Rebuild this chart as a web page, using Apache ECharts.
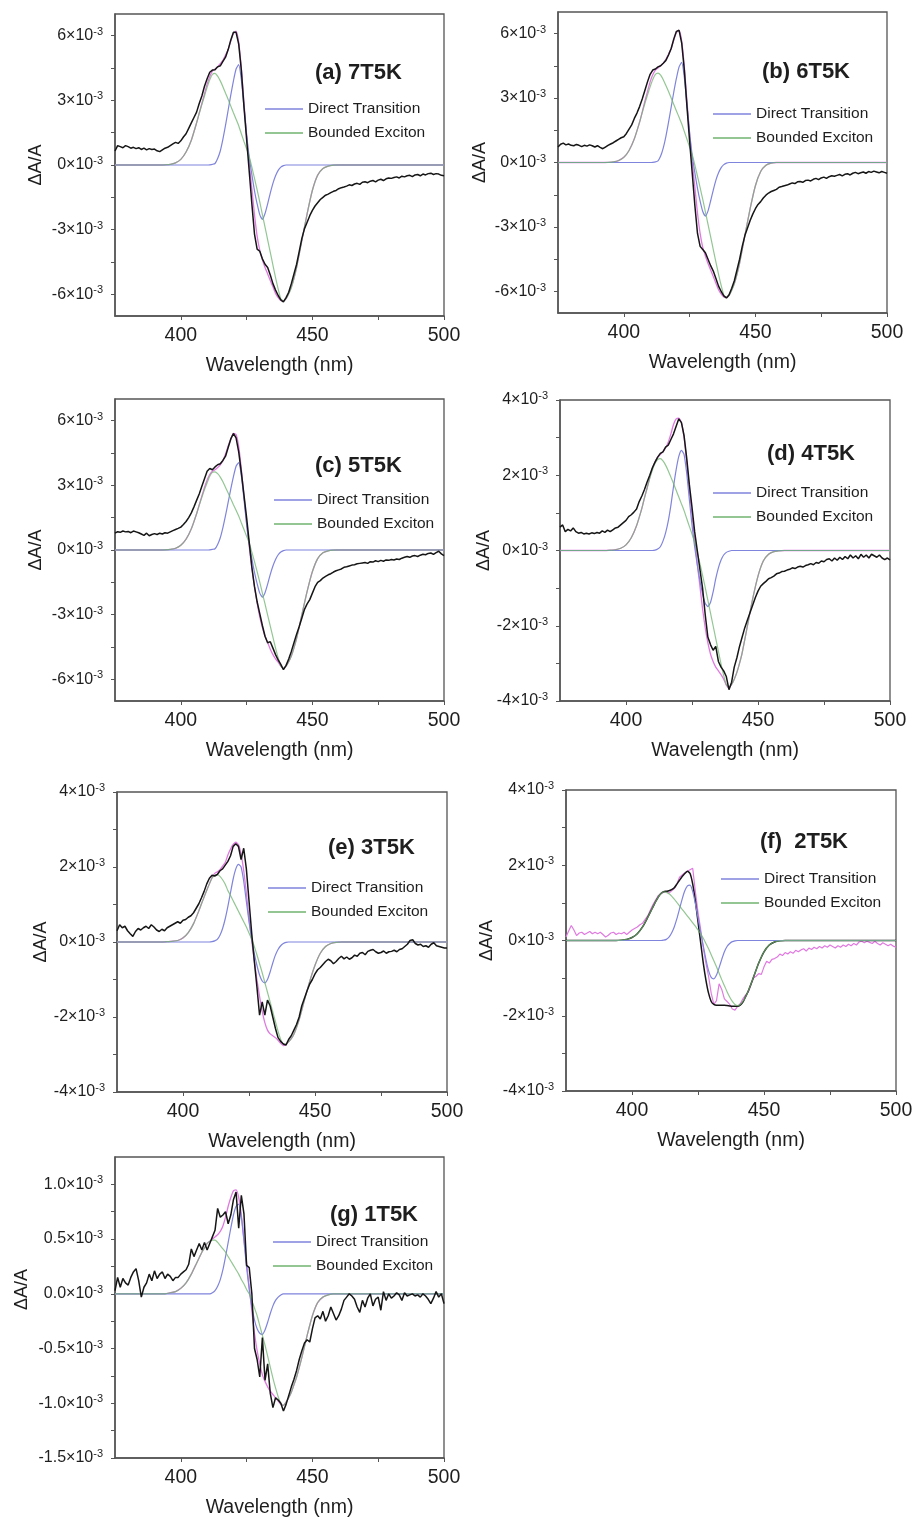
<!DOCTYPE html>
<html>
<head>
<meta charset="utf-8">
<script src="https://cdn.jsdelivr.net/npm/echarts@6/dist/echarts.min.js"></script>
<style>
  html, body { margin: 0; padding: 0; background: #ffffff; }
  #chart { width: 919px; height: 1520px; }
</style>
</head>
<body>
<div id="chart"></div>
<script>
// Transient absorption spectra, ΔA/A in units of 10^-3, with a two-component fit
// (direct transition + bounded exciton) for seven samples.

// Measured spectra on the 1 nm detector grid
const rawWl = [
  375,376,377,378,379,380,381,382,383,384, 385,386,387,388,389,390,391,392,393,394,
  395,396,397,398,399,400,401,402,403,404, 405,406,407,408,409,410,411,412,413,414,
  415,416,417,418,419,420,421,422,423,424, 425,426,427,428,429,430,431,432,433,434,
  435,436,437,438,439,440,441,442,443,444, 445,446,447,448,449,450,451,452,453,454,
  455,456,457,458,459,460,461,462,463,464, 465,466,467,468,469,470,471,472,473,474,
  475,476,477,478,479,480,481,482,483,484, 485,486,487,488,489,490,491,492,493,494,
  495,496,497,498,499,500
];

// Fit curves grid (finer around the transitions)
const fitWl = [
  375,390,392,394,396,398,400,402,404,406,
  407,408,409,410,411,412,413,414,415,416,
  417,418,419,420,421,422,423,424,425,426,
  427,428,429,430,431,432,433,434,435,436,
  437,438,439,440,441,442,443,444,446,448,
  450,452,454,456,458,460,462,500
];

// ---------- (a) 7T5K ----------
const rawA = [
  0.65,0.9,0.85,0.8,0.9,0.85,0.78,0.82,0.76,0.8, 0.72,0.78,0.7,0.76,0.72,0.74,0.66,0.62,0.7,0.78,
  0.82,0.9,0.98,1.05,1.0,1.12,1.3,1.45,1.7,1.95, 2.2,2.45,2.85,3.2,3.65,4.0,4.3,4.4,4.42,4.55,
  4.6,4.8,5.0,5.35,5.8,6.15,6.15,5.6,4.4,2.7, 1.2,-0.3,-1.8,-3.2,-3.9,-4.0,-4.35,-4.6,-4.75,-5.1,
  -5.5,-5.8,-6.05,-6.25,-6.35,-6.15,-5.9,-5.5,-5.05,-4.6, -4.0,-3.4,-2.95,-2.65,-2.35,-2.1,-1.9,-1.75,-1.6,-1.5,
  -1.4,-1.35,-1.28,-1.22,-1.18,-1.1,-1.05,-1.02,-0.98,-0.92, -0.95,-0.88,-0.85,-0.9,-0.8,-0.78,-0.82,-0.75,-0.72,-0.78,
  -0.7,-0.66,-0.72,-0.64,-0.6,-0.62,-0.58,-0.55,-0.6,-0.52, -0.55,-0.5,-0.48,-0.54,-0.46,-0.44,-0.5,-0.42,-0.46,-0.4,
  -0.38,-0.44,-0.4,-0.42,-0.48,-0.5
];
const fitA = [
  0,0,0,0.01,0.03,0.1,0.26,0.6,1.15,1.95,
  2.4,2.85,3.3,3.75,4.1,4.35,4.45,4.55,4.7,4.85,
  5.1,5.35,5.75,6.1,6.2,5.7,4.5,2.9,1.4,0.1,
  -1.1,-2.3,-3.3,-3.95,-4.4,-4.75,-5.05,-5.35,-5.65,-5.95,
  -6.15,-6.28,-6.3,-6.2,-5.95,-5.65,-5.25,-4.75,-3.5,-2.26,
  -1.17,-0.47,-0.16,-0.05,-0.01,0,0,0
];
const directA = [
  0,0,0,0,0,0,0,0,0,0,
  0,0,0,0,0.01,0.03,0.07,0.3,0.65,1.2,
  1.85,2.55,3.25,3.9,4.45,4.65,3.95,2.7,1.4,0.35,
  -0.45,-1.2,-1.8,-2.3,-2.52,-2.25,-1.8,-1.3,-0.85,-0.5,
  -0.25,-0.1,-0.03,0,0,0,0,0,0,0,
  0,0,0,0,0,0,0,0
];
const excitonA = [
  0,0,0,0.01,0.03,0.1,0.26,0.6,1.15,1.95,
  2.4,2.8,3.2,3.6,3.95,4.2,4.25,4.12,3.9,3.63,
  3.33,3.04,2.73,2.42,2.12,1.82,1.45,1.09,0.75,0.39,
  -0.1,-0.62,-1.15,-1.71,-2.3,-2.88,-3.47,-4.05,-4.64,-5.22,
  -5.75,-6.2,-6.3,-6.2,-5.98,-5.69,-5.25,-4.75,-3.5,-2.26,
  -1.17,-0.47,-0.16,-0.05,-0.01,0,0,0
];

// ---------- (b) 6T5K ----------
const rawB = [
  0.72,0.85,0.9,0.82,0.86,0.8,0.78,0.84,0.8,0.74, 0.8,0.76,0.82,0.78,0.72,0.78,0.7,0.64,0.72,0.8,
  0.86,0.92,1.0,1.08,1.15,1.2,1.35,1.55,1.75,2.05, 2.3,2.6,2.95,3.35,3.75,4.1,4.3,4.35,4.45,4.5,
  4.62,4.75,5.0,5.3,5.75,6.1,6.15,5.55,4.3,2.6, 1.0,-0.5,-2.0,-3.3,-3.9,-4.05,-4.2,-4.5,-4.8,-5.05,
  -5.4,-5.75,-6.0,-6.2,-6.3,-6.15,-5.85,-5.5,-5.0,-4.5, -3.9,-3.4,-3.05,-2.7,-2.4,-2.15,-1.95,-1.82,-1.65,-1.52,
  -1.42,-1.35,-1.3,-1.25,-1.15,-1.12,-1.08,-1.05,-1.0,-0.95, -0.98,-0.9,-0.88,-0.92,-0.84,-0.82,-0.86,-0.78,-0.74,-0.8,
  -0.72,-0.68,-0.74,-0.66,-0.62,-0.64,-0.6,-0.56,-0.62,-0.55, -0.52,-0.58,-0.5,-0.46,-0.52,-0.48,-0.44,-0.5,-0.42,-0.46,
  -0.4,-0.44,-0.48,-0.42,-0.46,-0.5
];
const fitB = [
  0,0,0,0.01,0.03,0.09,0.24,0.56,1.1,1.88,
  2.35,2.85,3.3,3.75,4.08,4.3,4.4,4.5,4.62,4.8,
  5.05,5.3,5.7,6.05,6.15,5.65,4.45,2.85,1.35,0.05,
  -1.15,-2.35,-3.3,-3.95,-4.35,-4.7,-5.0,-5.3,-5.62,-5.92,
  -6.12,-6.25,-6.28,-6.18,-5.92,-5.62,-5.2,-4.68,-3.4,-2.15,
  -1.08,-0.42,-0.13,-0.03,0,0,0,0
];
const directB = [
  0,0,0,0,0,0,0,0,0,0,
  0,0,0,0,0.01,0.03,0.08,0.3,0.68,1.22,
  1.88,2.58,3.28,3.92,4.45,4.66,3.95,2.68,1.38,0.32,
  -0.48,-1.2,-1.8,-2.28,-2.49,-2.25,-1.78,-1.28,-0.82,-0.48,
  -0.24,-0.1,-0.03,0,0,0,0,0,0,0,
  0,0,0,0,0,0,0,0
];
const excitonB = [
  0,0,0,0.01,0.03,0.09,0.24,0.56,1.1,1.88,
  2.32,2.74,3.14,3.52,3.86,4.1,4.16,4.06,3.85,3.58,
  3.3,3.0,2.7,2.4,2.1,1.8,1.44,1.08,0.72,0.36,
  -0.12,-0.64,-1.17,-1.72,-2.3,-2.88,-3.46,-4.05,-4.63,-5.2,
  -5.72,-6.16,-6.28,-6.18,-5.95,-5.64,-5.2,-4.68,-3.4,-2.15,
  -1.08,-0.42,-0.13,-0.03,0,0,0,0
];

// ---------- (c) 5T5K ----------
const rawC = [
  0.78,0.85,0.82,0.88,0.84,0.86,0.8,0.88,0.84,0.8, 0.74,0.68,0.78,0.66,0.72,0.76,0.72,0.78,0.74,0.8,
  0.78,0.84,0.9,0.95,1.0,1.06,1.18,1.32,1.5,1.72, 2.0,2.3,2.6,2.95,3.3,3.65,3.78,3.72,3.85,3.95,
  4.0,4.15,4.35,4.75,5.15,5.4,5.2,4.55,3.6,2.55, 1.5,0.35,-0.8,-1.7,-2.4,-2.95,-3.5,-4.0,-4.3,-4.25,
  -4.55,-4.85,-5.1,-5.3,-5.55,-5.35,-5.05,-4.7,-4.3,-3.9, -3.55,-3.15,-2.75,-2.5,-2.3,-2.0,-1.7,-1.5,-1.42,-1.3,
  -1.22,-1.15,-1.1,-1.02,-0.96,-0.92,-0.88,-0.8,-0.78,-0.74, -0.7,-0.68,-0.64,-0.62,-0.6,-0.58,-0.62,-0.54,-0.56,-0.5,
  -0.54,-0.48,-0.52,-0.46,-0.48,-0.44,-0.46,-0.42,-0.44,-0.38, -0.34,-0.3,-0.34,-0.28,-0.26,-0.3,-0.24,-0.2,-0.22,-0.16,
  -0.14,-0.2,-0.12,-0.06,-0.18,-0.26
];
const fitC = [
  0,0,0,0.01,0.03,0.08,0.22,0.5,0.98,1.68,
  2.1,2.5,2.9,3.25,3.5,3.65,3.72,3.82,3.95,4.15,
  4.45,4.82,5.15,5.4,5.35,4.8,3.75,2.5,1.25,0.15,
  -0.85,-1.7,-2.45,-3.1,-3.6,-4.0,-4.3,-4.6,-4.85,-5.05,
  -5.2,-5.38,-5.5,-5.38,-5.18,-4.92,-4.54,-4.1,-3.0,-1.92,
  -1.0,-0.4,-0.13,-0.04,-0.01,0,0,0
];
const directC = [
  0,0,0,0,0,0,0,0,0,0,
  0,0,0,0,0.01,0.03,0.06,0.26,0.57,1.04,
  1.6,2.22,2.83,3.4,3.88,4.05,3.45,2.35,1.2,0.3,
  -0.4,-1.04,-1.56,-2.0,-2.18,-1.98,-1.58,-1.13,-0.74,-0.44,
  -0.22,-0.09,-0.03,0,0,0,0,0,0,0,
  0,0,0,0,0,0,0,0
];
const excitonC = [
  0,0,0,0.01,0.03,0.08,0.22,0.5,0.98,1.68,
  2.07,2.44,2.8,3.12,3.42,3.6,3.62,3.54,3.38,3.16,
  2.9,2.64,2.37,2.1,1.84,1.58,1.26,0.95,0.64,0.33,
  -0.1,-0.54,-1.0,-1.49,-2.0,-2.5,-3.02,-3.53,-4.04,-4.55,
  -5.0,-5.38,-5.47,-5.38,-5.18,-4.92,-4.54,-4.1,-3.0,-1.92,
  -1.0,-0.4,-0.13,-0.04,-0.01,0,0,0
];

// ---------- (d) 4T5K ----------
const rawD = [
  0.62,0.68,0.5,0.56,0.52,0.6,0.5,0.46,0.48,0.44, 0.46,0.44,0.47,0.45,0.48,0.46,0.52,0.48,0.54,0.5,
  0.55,0.6,0.62,0.68,0.74,0.8,0.9,0.95,1.02,1.1, 1.3,1.45,1.62,1.82,2.0,2.2,2.35,2.48,2.58,2.62,
  2.75,2.8,2.95,3.1,3.3,3.5,3.4,3.05,2.45,1.75, 1.15,0.5,0.0,-0.5,-1.0,-1.7,-2.3,-2.5,-2.65,-2.55,
  -2.95,-3.1,-3.2,-3.35,-3.7,-3.5,-3.1,-2.85,-2.55,-2.3, -2.05,-1.85,-1.65,-1.45,-1.25,-1.08,-0.95,-0.88,-0.82,-0.75,
  -0.72,-0.68,-0.62,-0.6,-0.56,-0.55,-0.52,-0.5,-0.46,-0.48, -0.44,-0.42,-0.44,-0.4,-0.38,-0.35,-0.38,-0.32,-0.34,-0.28,
  -0.3,-0.24,-0.22,-0.28,-0.2,-0.26,-0.18,-0.24,-0.16,-0.22, -0.12,-0.2,-0.14,-0.22,-0.1,-0.18,-0.12,-0.2,-0.1,-0.14,
  -0.18,-0.12,-0.2,-0.24,-0.2,-0.25
];
const fitD = [
  0,0,0,0.01,0.02,0.06,0.15,0.34,0.66,1.12,
  1.4,1.66,1.94,2.18,2.36,2.48,2.55,2.63,2.73,2.88,
  3.1,3.35,3.5,3.52,3.4,3.0,2.35,1.6,0.95,0.3,
  -0.35,-0.95,-1.55,-2.05,-2.45,-2.75,-2.95,-3.1,-3.2,-3.3,
  -3.42,-3.58,-3.65,-3.56,-3.42,-3.24,-3.0,-2.72,-2.0,-1.28,
  -0.68,-0.28,-0.1,-0.03,-0.01,0,0,0
];
const directD = [
  0,0,0,0,0,0,0,0,0,0,
  0,0,0,0,0.01,0.04,0.1,0.25,0.47,0.78,
  1.2,1.7,2.15,2.5,2.66,2.55,2.05,1.35,0.68,0.1,
  -0.38,-0.8,-1.15,-1.4,-1.49,-1.38,-1.1,-0.75,-0.46,-0.25,
  -0.12,-0.05,-0.02,0,0,0,0,0,0,0,
  0,0,0,0,0,0,0,0
];
const excitonD = [
  0,0,0,0.01,0.02,0.06,0.15,0.34,0.66,1.12,
  1.4,1.66,1.92,2.14,2.32,2.42,2.44,2.38,2.27,2.12,
  1.95,1.78,1.6,1.42,1.24,1.06,0.85,0.64,0.44,0.22,
  -0.06,-0.35,-0.66,-0.98,-1.32,-1.66,-2.0,-2.34,-2.68,-3.02,
  -3.32,-3.56,-3.63,-3.56,-3.42,-3.24,-3.0,-2.72,-2.0,-1.28,
  -0.68,-0.28,-0.1,-0.03,-0.01,0,0,0
];

// ---------- (e) 3T5K ----------
const rawE = [
  0.3,0.46,0.38,0.42,0.3,0.22,0.15,0.28,0.36,0.32, 0.38,0.42,0.36,0.46,0.4,0.32,0.28,0.34,0.3,0.38,
  0.42,0.46,0.5,0.54,0.5,0.58,0.6,0.66,0.7,0.78, 0.9,1.02,1.18,1.35,1.55,1.7,1.78,1.76,1.8,1.9,
  1.95,2.05,2.15,2.3,2.55,2.62,2.55,2.2,2.5,1.95, 1.1,0.25,-0.5,-1.2,-1.95,-1.6,-1.95,-1.55,-1.7,-2.0,
  -2.3,-2.55,-2.65,-2.72,-2.75,-2.6,-2.5,-2.35,-2.2,-2.0, -1.7,-1.5,-1.3,-1.12,-1.0,-0.85,-0.74,-0.68,-0.6,-0.52,
  -0.46,-0.5,-0.58,-0.52,-0.44,-0.38,-0.45,-0.4,-0.46,-0.42, -0.35,-0.38,-0.3,-0.28,-0.34,-0.25,-0.22,-0.2,-0.26,-0.3,
  -0.28,-0.24,-0.3,-0.26,-0.25,-0.22,-0.26,-0.2,-0.18,-0.12, -0.06,0.04,0.06,-0.04,-0.08,-0.06,-0.12,-0.1,-0.14,-0.06,
  -0.02,-0.1,-0.12,-0.14,-0.16,-0.16
];
const fitE = [
  0,0,0,0.01,0.02,0.04,0.11,0.25,0.49,0.83,
  1.02,1.2,1.38,1.55,1.72,1.83,1.87,1.93,2.02,2.12,
  2.32,2.48,2.6,2.66,2.6,2.35,1.9,1.3,0.62,0.05,
  -0.5,-1.0,-1.45,-1.85,-2.15,-2.35,-2.45,-2.5,-2.55,-2.62,
  -2.7,-2.76,-2.73,-2.66,-2.58,-2.46,-2.28,-2.07,-1.55,-1.05,
  -0.62,-0.3,-0.12,-0.04,-0.01,0,0,0
];
const directE = [
  0,0,0,0,0,0,0,0,0,0,
  0,0,0,0,0.01,0.03,0.07,0.18,0.36,0.62,
  0.95,1.32,1.68,1.95,2.07,2.0,1.62,1.08,0.55,0.08,
  -0.3,-0.62,-0.88,-1.04,-1.09,-1.0,-0.8,-0.56,-0.35,-0.2,
  -0.1,-0.04,-0.01,0,0,0,0,0,0,0,
  0,0,0,0,0,0,0,0
];
const excitonE = [
  0,0,0,0.01,0.02,0.04,0.11,0.25,0.49,0.83,
  1.02,1.2,1.38,1.55,1.7,1.79,1.8,1.75,1.66,1.54,
  1.37,1.24,1.1,0.96,0.82,0.68,0.54,0.4,0.24,0.08,
  -0.12,-0.34,-0.58,-0.82,-1.08,-1.34,-1.6,-1.86,-2.12,-2.38,
  -2.6,-2.72,-2.72,-2.66,-2.58,-2.46,-2.28,-2.07,-1.55,-1.05,
  -0.62,-0.3,-0.12,-0.04,-0.01,0,0,0
];

// ---------- (f) 2T5K ----------
const rawF = [
  0.09,0.25,0.4,0.28,0.13,0.2,0.22,0.16,0.2,0.24, 0.18,0.22,0.18,0.22,0.16,0.09,0.14,0.2,0.22,0.16,
  0.2,0.18,0.22,0.16,0.22,0.28,0.32,0.36,0.42,0.46, 0.56,0.66,0.82,0.96,1.08,1.2,1.26,1.28,1.3,1.26,
  1.32,1.38,1.5,1.68,1.74,1.8,1.84,1.88,1.92,1.3, 0.75,0.3,-0.2,-0.6,-0.95,-1.4,-1.7,-1.6,-1.15,-1.3,
  -1.55,-1.62,-1.7,-1.82,-1.85,-1.75,-1.68,-1.55,-1.45,-1.38, -1.2,-1.0,-0.95,-0.88,-0.9,-0.7,-0.55,-0.6,-0.5,-0.48,
  -0.44,-0.36,-0.4,-0.32,-0.36,-0.3,-0.34,-0.26,-0.3,-0.25, -0.22,-0.28,-0.2,-0.24,-0.18,-0.22,-0.16,-0.2,-0.14,-0.18,
  -0.12,-0.16,-0.2,-0.14,-0.18,-0.12,-0.16,-0.1,-0.14,-0.08, -0.12,-0.04,-0.02,-0.06,-0.02,-0.05,-0.08,-0.02,-0.08,-0.12,
  -0.06,-0.1,-0.14,-0.1,-0.15,-0.18
];
const fitF = [
  0,0,0,0,0.01,0.03,0.08,0.18,0.36,0.62,
  0.76,0.9,1.04,1.16,1.25,1.3,1.31,1.32,1.35,1.4,
  1.5,1.6,1.7,1.78,1.84,1.78,1.5,1.05,0.5,-0.05,
  -0.6,-1.05,-1.4,-1.62,-1.7,-1.72,-1.72,-1.72,-1.72,-1.73,
  -1.74,-1.75,-1.75,-1.75,-1.72,-1.64,-1.5,-1.35,-0.98,-0.6,
  -0.3,-0.12,-0.04,-0.01,0,0,0,0
];
const directF = [
  0,0,0,0,0,0,0,0,0,0,
  0,0,0,0,0,0.01,0.03,0.09,0.2,0.36,
  0.58,0.84,1.1,1.32,1.45,1.47,1.3,0.98,0.6,0.22,
  -0.14,-0.5,-0.8,-0.98,-1.02,-0.92,-0.72,-0.5,-0.3,-0.16,
  -0.08,-0.03,-0.01,0,0,0,0,0,0,0,
  0,0,0,0,0,0,0,0
];
const excitonF = [
  0,0,0,0,0.01,0.03,0.08,0.18,0.36,0.62,
  0.76,0.9,1.04,1.16,1.25,1.29,1.28,1.24,1.18,1.1,
  1.01,0.92,0.83,0.74,0.65,0.56,0.47,0.38,0.28,0.18,
  0.06,-0.08,-0.22,-0.38,-0.54,-0.7,-0.87,-1.04,-1.2,-1.36,
  -1.5,-1.62,-1.7,-1.73,-1.7,-1.62,-1.5,-1.35,-0.98,-0.6,
  -0.3,-0.12,-0.04,-0.01,0,0,0,0
];

// ---------- (g) 1T5K ----------
const rawG = [
  0.03,0.15,0.06,0.14,0.1,0.08,0.15,0.2,0.23,0.12, -0.03,0.06,0.1,0.18,0.12,0.21,0.14,0.18,0.2,0.14,
  0.18,0.16,0.12,0.15,0.15,0.18,0.2,0.22,0.27,0.41, 0.34,0.4,0.46,0.4,0.47,0.4,0.46,0.52,0.58,0.78,
  0.7,0.72,0.75,0.64,0.72,0.86,0.93,0.6,0.9,0.73, 0.26,0.24,0.0,-0.5,-0.6,-0.76,-0.4,-0.79,-0.64,-0.91,
  -1.04,-0.95,-0.97,-1.0,-1.07,-1.01,-0.93,-0.85,-0.78,-0.7, -0.6,-0.52,-0.45,-0.42,-0.44,-0.32,-0.22,-0.2,-0.23,-0.16,
  -0.25,-0.2,-0.12,-0.18,-0.24,-0.2,-0.14,-0.06,-0.03,0.0, -0.02,-0.05,-0.12,-0.17,-0.06,-0.12,-0.04,0.0,-0.11,-0.05,
  -0.03,-0.15,0.02,-0.06,0.0,-0.04,-0.02,0.01,-0.01,-0.06, 0.01,-0.02,-0.01,0.0,-0.02,-0.01,-0.03,0.0,-0.02,-0.05,
  -0.09,-0.04,0.02,-0.03,0.0,-0.09
];
const fitG = [
  0,0,0,0,0.01,0.02,0.05,0.1,0.18,0.28,
  0.33,0.38,0.42,0.46,0.48,0.5,0.52,0.54,0.57,0.62,
  0.7,0.8,0.88,0.94,0.95,0.88,0.72,0.5,0.28,0.06,
  -0.16,-0.36,-0.52,-0.64,-0.74,-0.8,-0.85,-0.89,-0.92,-0.95,
  -0.98,-1.01,-1.02,-0.99,-0.95,-0.9,-0.83,-0.76,-0.58,-0.38,
  -0.2,-0.08,-0.03,-0.01,0,0,0,0
];
const directG = [
  0,0,0,0,0,0,0,0,0,0,
  0,0,0,0,0,0.01,0.03,0.07,0.13,0.22,
  0.34,0.47,0.6,0.72,0.8,0.82,0.7,0.48,0.24,0.04,
  -0.12,-0.24,-0.32,-0.36,-0.37,-0.33,-0.26,-0.18,-0.11,-0.06,
  -0.03,-0.01,0,0,0,0,0,0,0,0,
  0,0,0,0,0,0,0,0
];
const excitonG = [
  0,0,0,0,0.01,0.02,0.05,0.1,0.18,0.28,
  0.33,0.38,0.42,0.46,0.48,0.49,0.49,0.47,0.44,0.41,
  0.38,0.34,0.3,0.26,0.22,0.18,0.13,0.09,0.04,0.0,
  -0.06,-0.13,-0.2,-0.29,-0.38,-0.47,-0.57,-0.67,-0.77,-0.86,
  -0.94,-1.0,-1.02,-0.99,-0.95,-0.9,-0.83,-0.76,-0.58,-0.38,
  -0.2,-0.08,-0.03,-0.01,0,0,0,0
];

// Axis ticks and labels
const xTickValues = [400, 425, 450, 475, 500];
const xLabelValues = [400, 450, 500];
const yTicks7 = [-6, -4.5, -3, -1.5, 0, 1.5, 3, 4.5, 6];
const yLabels7 = [-6, -3, 0, 3, 6];
const yTicks4 = [-4, -3, -2, -1, 0, 1, 2, 3, 4];
const yLabels4 = [-4, -2, 0, 2, 4];
const yTicksG = [-1.5, -1.25, -1, -0.75, -0.5, -0.25, 0, 0.25, 0.5, 0.75, 1];
const yLabelsG = [-1.5, -1, -0.5, 0, 0.5, 1];

const seriesNames = ['Direct Transition', 'Bounded Exciton'];

const panels = [
  { title: '(a) 7T5K', raw: rawA, fit: fitA, direct: directA, exciton: excitonA, yMin: -7, yMax: 7, yTicks: yTicks7, yLabels: yLabels7, dec: 0 },
  { title: '(b) 6T5K', raw: rawB, fit: fitB, direct: directB, exciton: excitonB, yMin: -7, yMax: 7, yTicks: yTicks7, yLabels: yLabels7, dec: 0 },
  { title: '(c) 5T5K', raw: rawC, fit: fitC, direct: directC, exciton: excitonC, yMin: -7, yMax: 7, yTicks: yTicks7, yLabels: yLabels7, dec: 0 },
  { title: '(d) 4T5K', raw: rawD, fit: fitD, direct: directD, exciton: excitonD, yMin: -4, yMax: 4, yTicks: yTicks4, yLabels: yLabels4, dec: 0 },
  { title: '(e) 3T5K', raw: rawE, fit: fitE, direct: directE, exciton: excitonE, yMin: -4, yMax: 4, yTicks: yTicks4, yLabels: yLabels4, dec: 0 },
  { title: '(f)  2T5K', raw: rawF, fit: fitF, direct: directF, exciton: excitonF, yMin: -4, yMax: 4, yTicks: yTicks4, yLabels: yLabels4, dec: 0, swapColors: true },
  { title: '(g) 1T5K', raw: rawG, fit: fitG, direct: directG, exciton: excitonG, yMin: -1.5, yMax: 1.25, yTicks: yTicksG, yLabels: yLabelsG, dec: 1 }
];

// Page layout of each panel (pixels)
const layout = [
  { grid: [115, 14, 329, 302],  title: [315, 62],  legend: [265, 101],  nameGap: 70, namePad: 0 },
  { grid: [558, 12, 329, 301],  title: [762, 61],  legend: [713, 106],  nameGap: 69, namePad: 0 },
  { grid: [115, 399, 329, 302], title: [315, 455], legend: [274, 492],  nameGap: 70, namePad: 0 },
  { grid: [560, 400, 330, 301], title: [767, 443], legend: [713, 485],  nameGap: 65, namePad: 0 },
  { grid: [117, 792, 330, 300], title: [328, 837], legend: [268, 880],  nameGap: 67, namePad: 0 },
  { grid: [566, 790, 330, 301], title: [760, 831], legend: [721, 871],  nameGap: 70, namePad: 0 },
  { grid: [115, 1157, 329, 301], title: [330, 1204], legend: [273, 1234], nameGap: 84, namePad: 36 }
];

const FONT = 'Liberation Sans, Arial, Helvetica, sans-serif';
const TXT = '#1e1e1e';
const AXIS = '#555555';
const C_BLACK = '#161616';
const C_MAGENTA = '#e07ae0';
const C_BLUE = '#7f84dc';
const C_GREEN = '#6fb36f';

const grids = [], xAxes = [], yAxes = [], titles = [], legends = [], series = [];

panels.forEach((p, i) => {
  const L = layout[i];
  grids.push({
    left: L.grid[0], top: L.grid[1], width: L.grid[2], height: L.grid[3],
    show: true, borderColor: AXIS, borderWidth: 1.3, backgroundColor: 'transparent',
    containLabel: false
  });
  xAxes.push({
    type: 'value', gridIndex: i, min: 375, max: 500,
    name: 'Wavelength (nm)', nameLocation: 'middle', nameGap: 40,
    nameTextStyle: { fontFamily: FONT, fontSize: 19.5, color: TXT },
    axisLine: { show: true, onZero: false, lineStyle: { color: AXIS, width: 1.5 } },
    axisTick: { show: true, inside: false, length: 4, customValues: xTickValues, lineStyle: { color: AXIS } },
    axisLabel: { show: true, margin: 10, fontFamily: FONT, fontSize: 19.5, color: TXT, customValues: xLabelValues },
    splitLine: { show: false }
  });
  const dec = p.dec;
  yAxes.push({
    type: 'value', gridIndex: i, min: p.yMin, max: p.yMax,
    name: 'ΔA/A', nameLocation: 'middle', nameGap: L.nameGap, nameRotate: 90,
    nameTextStyle: { fontFamily: FONT, fontSize: 18, color: TXT, padding: [0, 0, 0, L.namePad] },
    axisLine: { show: true, onZero: false, lineStyle: { color: AXIS, width: 1.5 } },
    axisTick: { show: true, inside: false, length: 4, customValues: p.yTicks, lineStyle: { color: AXIS } },
    axisLabel: {
      show: true, margin: 12, customValues: p.yLabels,
      formatter: v => '{m|' + (dec ? v.toFixed(dec) : String(Math.round(v))) + '×10}{s|-3}',
      rich: {
        m: { fontFamily: FONT, fontSize: 16, color: TXT, lineHeight: 19 },
        s: { fontFamily: FONT, fontSize: 11, color: TXT, lineHeight: 14, verticalAlign: 'top' }
      }
    },
    splitLine: { show: false }
  });
  titles.push({
    text: p.title, left: L.title[0], top: L.title[1], padding: 0,
    textStyle: { fontFamily: FONT, fontSize: 22, fontWeight: 'bold', color: TXT }
  });
  legends.push({
    data: seriesNames, orient: 'vertical', left: L.legend[0], top: L.legend[1],
    padding: 0, itemGap: 8, itemWidth: 38, itemHeight: 1.5, icon: 'rect',
    selectedMode: false,
    textStyle: { fontFamily: FONT, fontSize: 15.5, color: TXT, lineHeight: 16 }
  });

  const rawPts = rawWl.map((w, k) => [w, p.raw[k]]);
  const fitPts = fitWl.map((w, k) => [w, p.fit[k]]);
  const dirPts = fitWl.map((w, k) => [w, p.direct[k]]);
  const excPts = fitWl.map((w, k) => [w, p.exciton[k]]);
  const common = { type: 'line', xAxisIndex: i, yAxisIndex: i, symbol: 'none', silent: true, animation: false };

  const rawSeries = Object.assign({}, common, {
    name: 'measured ' + i, data: rawPts,
    color: p.swapColors ? C_MAGENTA : C_BLACK,
    lineStyle: { color: p.swapColors ? C_MAGENTA : C_BLACK, width: p.swapColors ? 1.2 : 1.5 }
  });
  const fitSeries = Object.assign({}, common, {
    name: 'fit ' + i, data: fitPts, smooth: 0.2,
    color: p.swapColors ? C_BLACK : C_MAGENTA,
    lineStyle: { color: p.swapColors ? C_BLACK : C_MAGENTA, width: p.swapColors ? 1.5 : 1.3 }
  });
  const dirSeries = Object.assign({}, common, {
    name: seriesNames[0], data: dirPts, smooth: 0.2, color: C_BLUE,
    lineStyle: { color: C_BLUE, width: 1.2 }
  });
  const excSeries = Object.assign({}, common, {
    name: seriesNames[1], data: excPts, smooth: 0.2, color: C_GREEN,
    lineStyle: { color: C_GREEN, width: 1.2, opacity: 0.75 }
  });
  if (p.swapColors) {
    series.push(rawSeries, fitSeries, dirSeries, excSeries);
  } else {
    series.push(fitSeries, dirSeries, excSeries, rawSeries);
  }
});

const chart = echarts.init(document.getElementById('chart'), null, { renderer: 'canvas' });
chart.setOption({
  animation: false,
  backgroundColor: '#ffffff',
  textStyle: { fontFamily: FONT },
  grid: grids,
  xAxis: xAxes,
  yAxis: yAxes,
  title: titles,
  legend: legends,
  series: series
});
</script>
</body>
</html>
